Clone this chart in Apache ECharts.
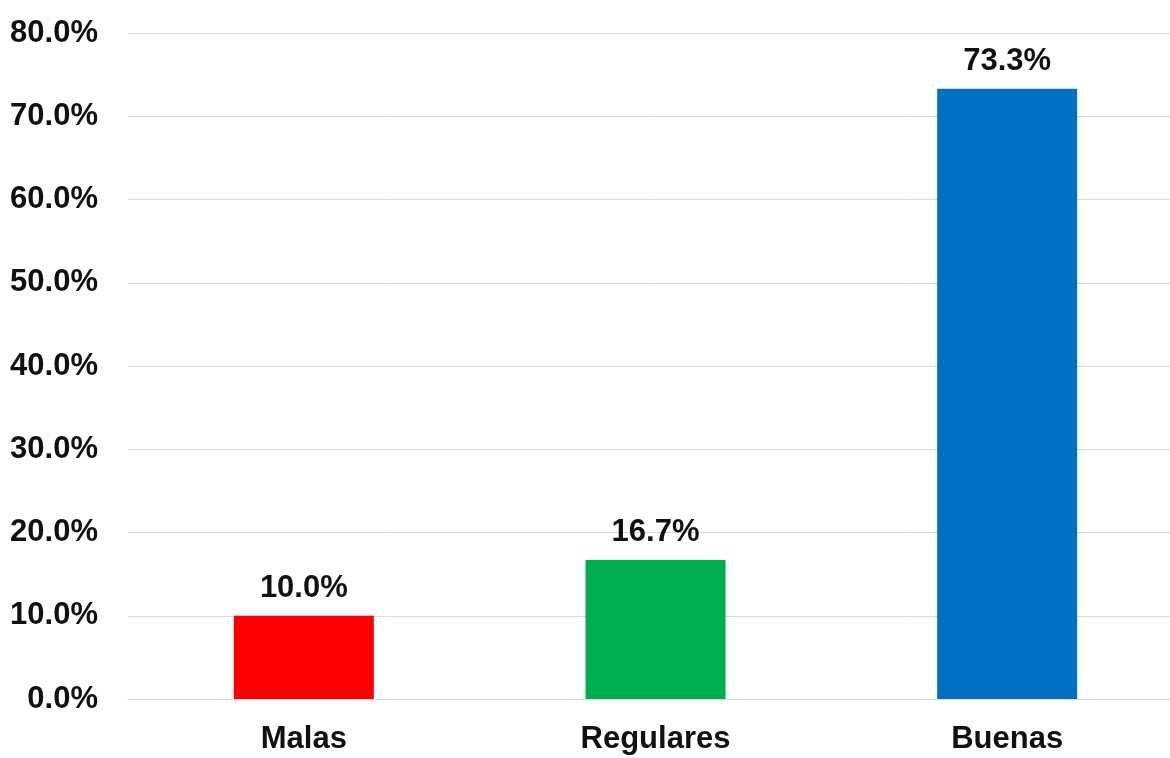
<!DOCTYPE html>
<html>
<head>
<meta charset="utf-8">
<script src="https://cdn.jsdelivr.net/npm/echarts@6/dist/echarts.min.js"></script>
<style>
  html, body { margin: 0; padding: 0; background: #fff; }
  #chart { width: 1170px; height: 758px; }
</style>
</head>
<body>
<div id="chart"></div>
<script>
  // categorias y porcentajes
  var categories = ['Malas', 'Regulares', 'Buenas'];
  var values = [10.0, 16.7, 73.3];
  var barColors = ['#ff0000', '#00b050', '#0070c0'];

  var font = 'Liberation Sans, Arial, sans-serif';

  var option = {
    animation: false,
    grid: { left: 128, top: 33, width: 1055, height: 666, outerBoundsMode: 'none' },
    xAxis: {
      type: 'category',
      data: categories,
      axisLine: { lineStyle: { color: '#d9d9d9', width: 1 } },
      axisTick: { show: false },
      axisLabel: {
        margin: 25,
        color: '#111',
        fontFamily: font,
        fontWeight: 'bold',
        fontSize: 31
      }
    },
    yAxis: {
      type: 'value',
      min: 0,
      max: 80,
      interval: 10,
      axisLine: { show: false },
      axisTick: { show: false },
      splitLine: { lineStyle: { color: '#d9d9d9', width: 1 } },
      axisLabel: {
        margin: 30,
        color: '#111',
        fontFamily: font,
        fontWeight: 'bold',
        fontSize: 31,
        formatter: function (v) { return v.toFixed(1) + '%'; }
      }
    },
    series: [{
      type: 'bar',
      barWidth: 140,
      data: values.map(function (v, i) {
        return { value: v, itemStyle: { color: barColors[i] } };
      }),
      label: {
        show: true,
        position: 'top',
        distance: 12,
        color: '#111',
        fontFamily: font,
        fontWeight: 'bold',
        fontSize: 31,
        formatter: function (p) { return p.value.toFixed(1) + '%'; }
      }
    }]
  };

  var myChart = echarts.init(document.getElementById('chart'));
  myChart.setOption(option);
</script>
</body>
</html>
